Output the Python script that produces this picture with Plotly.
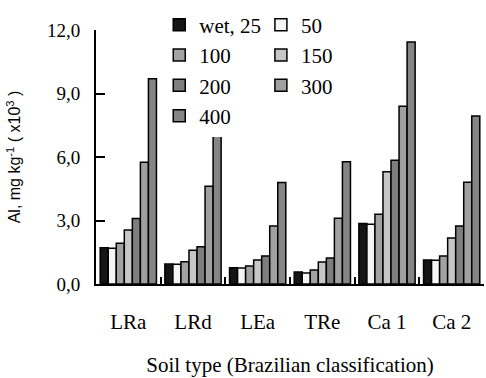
import plotly.graph_objects as go

categories = ["LRa", "LRd", "LEa", "TRe", "Ca 1", "Ca 2"]
series_names = ["wet, 25", "50", "100", "150", "200", "300", "400"]
wet25 = [1.71, 0.94, 0.77, 0.57, 2.86, 1.13]
s50 = [1.69, 0.93, 0.76, 0.52, 2.82, 1.12]
s100 = [1.92, 1.05, 0.85, 0.66, 3.30, 1.32]
s150 = [2.55, 1.60, 1.13, 1.04, 5.30, 2.17]
s200 = [3.10, 1.76, 1.32, 1.23, 5.85, 2.74]
s300 = [5.75, 4.62, 2.74, 3.11, 8.40, 4.81]
s400 = [9.70, 7.40, 4.80, 5.77, 11.43, 7.94]
series_values = [wet25, s50, s100, s150, s200, s300, s400]
y_ticks = [0, 3, 6, 9, 12]
y_tick_labels = ["0,0", "3,0", "6,0", "9,0", "12,0"]

colors = ["#151515", "#f5f5f5", "#a2a2a2", "#c6c6c6", "#7e7e7e", "#a0a0a0", "#858585"]
legend_of = ["legend", "legend2", "legend", "legend2", "legend", "legend2", "legend"]

SERIF = "Liberation Serif"
SANS = "Liberation Sans"

fig = go.Figure()
for name, vals, col, lg in zip(series_names, series_values, colors, legend_of):
    fig.add_trace(go.Bar(
        x=categories, y=vals, name=name,
        marker=dict(color=col, line=dict(color="black", width=1.5)),
        legend=lg,
    ))

legend_common = dict(
    bgcolor="white", borderwidth=0,
    font=dict(family=SERIF, size=21, color="black"),
    orientation="v", xanchor="left", yanchor="top",
    tracegroupgap=0, itemclick=False,
)

fig.update_layout(
    template="none",
    width=486, height=378,
    margin=dict(l=96, r=2, t=30, b=94),
    font=dict(family=SERIF, size=21, color="black"),
    paper_bgcolor="white", plot_bgcolor="white",
    barmode="group", bargap=0.13, bargroupgap=0,
    showlegend=True,
    legend=dict(x=0.163, y=1.10, **legend_common),
    legend2=dict(x=0.425, y=1.10, **legend_common),
    xaxis=dict(
        showline=True, linecolor="black", linewidth=2,
        ticks="inside", ticklen=7, tickwidth=1.5, tickcolor="black",
        tickson="boundaries",
        tickfont=dict(family=SERIF, size=21, color="black"),
        ticklabelstandoff=18,
        title=dict(text="Soil type (Brazilian classification)",
                   font=dict(family=SERIF, size=21, color="black"), standoff=24),
        showgrid=False, zeroline=False, fixedrange=True,
    ),
    yaxis=dict(
        range=[0, 12], tickvals=y_ticks, ticktext=y_tick_labels,
        showline=True, linecolor="black", linewidth=2,
        ticks="inside", ticklen=9, tickwidth=1.5, tickcolor="black",
        tickfont=dict(family=SERIF, size=19, color="black"),
        ticklabelstandoff=10,
        title=dict(text="Al, mg kg<sup>-1</sup> ( x10<sup>3</sup> )",
                   font=dict(family=SANS, size=16, color="black"), standoff=22),
        showgrid=False, zeroline=False, fixedrange=True,
    ),
)

fig.write_html("out.html", config={"displayModeBar": False},
               post_script="document.body.style.margin='0';document.body.style.padding='0';")
